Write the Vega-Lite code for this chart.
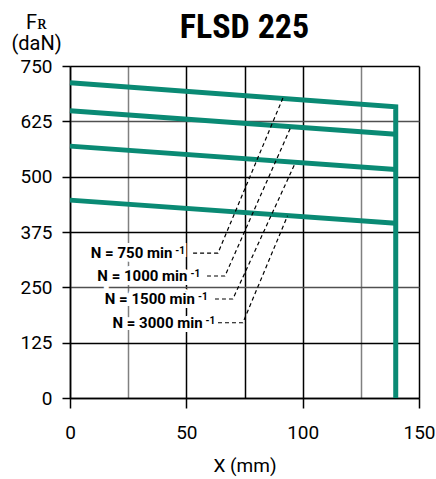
{
  "$schema": "https://vega.github.io/schema/vega-lite/v6.json",
  "width": 349,
  "height": 332,
  "autosize": {"type": "none"},
  "padding": {"left": 70, "top": 66, "right": 17, "bottom": 81},
  "background": "white",
  "title": {"text": "FLSD 225", "frame": "group", "anchor": "middle", "baseline": "alphabetic", "offset": -60, "fontSize": 34, "font": "Liberation Sans Narrow, Roboto Condensed, DejaVu Sans Condensed, sans-serif", "fontWeight": "bold", "color": "#000"},
  "config": {
    "view": {"stroke": null},
    "axis": {"labelFont": "Roboto", "labelFontSize": 19, "labelColor": "#000", "titleFont": "Roboto", "titleFontSize": 19, "titleFontWeight": "normal", "titleColor": "#000", "domainColor": "#000", "domainWidth": 1.5, "tickColor": "#000", "tickWidth": 1.5, "gridWidth": 1.5, "gridOpacity": 1, "labelFlush": false}
  },
  "datasets": {
    "curves": [
      {"series": "750", "i": 0, "x": 0, "y": 712},
      {"series": "750", "i": 1, "x": 140, "y": 658},
      {"series": "750", "i": 2, "x": 140, "y": 0},
      {"series": "1000", "i": 0, "x": 0, "y": 649},
      {"series": "1000", "i": 1, "x": 140, "y": 596},
      {"series": "1500", "i": 0, "x": 0, "y": 569},
      {"series": "1500", "i": 1, "x": 140, "y": 516},
      {"series": "3000", "i": 0, "x": 0, "y": 447},
      {"series": "3000", "i": 1, "x": 140, "y": 395}
    ],
    "leaders": [
      {"series": "750", "i": 0, "x": 52.9, "y": 327.5},
      {"series": "750", "i": 1, "x": 63.6, "y": 327.5},
      {"series": "750", "i": 2, "x": 91.5, "y": 677.6},
      {"series": "1000", "i": 0, "x": 58.9, "y": 275.6},
      {"series": "1000", "i": 1, "x": 66.6, "y": 275.6},
      {"series": "1000", "i": 2, "x": 95.0, "y": 613},
      {"series": "1500", "i": 0, "x": 62.3, "y": 223.6},
      {"series": "1500", "i": 1, "x": 70.0, "y": 223.6},
      {"series": "1500", "i": 2, "x": 96.9, "y": 532},
      {"series": "3000", "i": 0, "x": 63.6, "y": 170},
      {"series": "3000", "i": 1, "x": 74.3, "y": 170},
      {"series": "3000", "i": 2, "x": 93.5, "y": 411.6}
    ],
    "labels": [
      {"label": "N = 750 min", "sup": "-1", "x": 44.0, "y": 328.3},
      {"label": "N = 1000 min", "sup": "-1", "x": 50.5, "y": 275.6},
      {"label": "N = 1500 min", "sup": "-1", "x": 53.7, "y": 223},
      {"label": "N = 3000 min", "sup": "-1", "x": 57.0, "y": 169}
    ]
  },
  "layer": [
    {
      "data": {"name": "curves"},
      "mark": {"type": "line", "color": "#0a8a74", "strokeWidth": 5, "strokeJoin": "miter"},
      "encoding": {
        "x": {"field": "x", "type": "quantitative", "scale": {"domain": [0, 150], "nice": false},
          "axis": {"title": "X (mm)", "values": [0, 25, 50, 75, 100, 125, 150], "grid": true,
            "gridColor": {"condition": {"test": "datum.value === 25 || datum.value === 125", "value": "#808080"}, "value": "#000"},
            "labelExpr": "datum.value % 50 === 0 ? datum.label : ''",
            "tickOpacity": {"condition": {"test": "datum.value % 50 === 0", "value": 1}, "value": 0},
            "tickSize": 10, "labelPadding": 15, "titleBaseline": "alphabetic", "titleY": 73, "titleX": 174.5, "titleAlign": "center"}},
        "y": {"field": "y", "type": "quantitative", "scale": {"domain": [0, 750], "nice": false},
          "axis": {"title": ["Fʀ", "(daN)"], "values": [0, 62.5, 125, 187.5, 250, 312.5, 375, 437.5, 500, 562.5, 625, 687.5, 750], "grid": true,
            "gridColor": {"condition": [{"test": "datum.value === 687.5 || datum.value === 62.5", "value": "#808080"}, {"test": "datum.value === 625 || datum.value === 250", "value": "#505050"}], "value": "#000"},
            "labelExpr": "datum.value % 125 === 0 ? datum.label : ''",
            "tickOpacity": {"condition": {"test": "datum.value % 125 === 0", "value": 1}, "value": 0},
            "tickSize": 8, "labelPadding": 10, "titleAngle": 0, "titleAlign": "center", "titleBaseline": "top", "titleX": -34, "titleY": -54, "titleFontSize": 20, "titleLineHeight": 21}},
        "detail": {"field": "series"},
        "order": {"field": "i"}
      }
    },
    {
      "data": {"name": "leaders"},
      "mark": {"type": "line", "color": "#000", "strokeWidth": 1.2, "strokeDash": [4, 3]},
      "encoding": {
        "x": {"field": "x", "type": "quantitative"},
        "y": {"field": "y", "type": "quantitative"},
        "detail": {"field": "series"},
        "order": {"field": "i"}
      }
    },
    {
      "data": {"name": "labels"},
      "mark": {"type": "text", "align": "right", "baseline": "middle", "font": "Roboto", "fontSize": 15, "fontWeight": "bold", "color": "white", "stroke": "white", "strokeWidth": 8},
      "encoding": {
        "x": {"field": "x", "type": "quantitative"},
        "y": {"field": "y", "type": "quantitative"},
        "text": {"field": "label"}
      }
    },
    {
      "data": {"name": "labels"},
      "mark": {"type": "text", "align": "left", "baseline": "middle", "dx": 3, "dy": -2, "font": "Roboto", "fontSize": 10, "fontWeight": "bold", "color": "white", "stroke": "white", "strokeWidth": 6},
      "encoding": {
        "x": {"field": "x", "type": "quantitative"},
        "y": {"field": "y", "type": "quantitative"},
        "text": {"field": "sup"}
      }
    },
    {
      "data": {"name": "labels"},
      "mark": {"type": "text", "align": "right", "baseline": "middle", "font": "Roboto", "fontSize": 15, "fontWeight": "bold", "color": "#000"},
      "encoding": {
        "x": {"field": "x", "type": "quantitative"},
        "y": {"field": "y", "type": "quantitative"},
        "text": {"field": "label"}
      }
    },
    {
      "data": {"name": "labels"},
      "mark": {"type": "text", "align": "left", "baseline": "middle", "dx": 3, "dy": -2, "font": "Roboto", "fontSize": 10, "fontWeight": "bold", "color": "#000"},
      "encoding": {
        "x": {"field": "x", "type": "quantitative"},
        "y": {"field": "y", "type": "quantitative"},
        "text": {"field": "sup"}
      }
    }
  ]
}
